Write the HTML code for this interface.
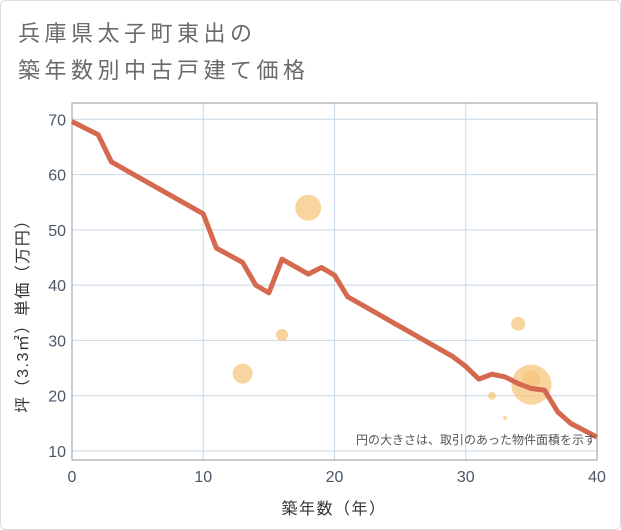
<!DOCTYPE html>
<html><head><meta charset="utf-8"><style>
html,body{margin:0;padding:0;background:#fff;}
body{width:621px;height:530px;overflow:hidden;font-family:"Liberation Sans","Noto Sans CJK JP",sans-serif;}
#frame{position:absolute;left:0;top:0;width:619px;height:528px;border:1px solid #ddd;border-radius:6px;}
</style></head><body>
<div id="frame"></div>
<svg width="621" height="530" style="position:absolute;left:0;top:0" id="chart">
<text x="18" y="41" font-size="22" fill="#6a6a6a" letter-spacing="4.5">兵庫県太子町東出の</text>
<text x="18" y="78" font-size="22" fill="#6a6a6a" letter-spacing="4.5">築年数別中古戸建て価格</text>
<g id="grid"></g>
<g id="marks"></g>
<text x="596" y="444" font-size="12" fill="#555" text-anchor="end">円の大きさは、取引のあった物件面積を示す</text>
<text x="334" y="514" font-size="16" fill="#333" text-anchor="middle" letter-spacing="1.5">築年数（年）</text>
<text transform="translate(28,312) rotate(-90)" font-size="16" fill="#333" text-anchor="middle" letter-spacing="1.5">坪（3.3㎡）単価（万円）</text>
</svg>
<script>
const xTicks=[0,10,20,30,40];
const yTicks=[10,20,30,40,50,60,70];
const lineYears=[0,2,3,10,11,13,14,15,16,18,19,20,21,29,30,31,32,33,34,35,36,37,38,40];
const lineValues=[69.6,67.2,62.3,52.9,46.7,44.1,40.0,38.6,44.7,42.0,43.2,41.8,37.9,27.1,25.3,23.0,23.9,23.4,22.2,21.3,21.0,17.1,15.0,12.5];
const bubbleYears=[13,16,18,32,33,34,35,35];
const bubbleValues=[24,31,54,20,16,33,22,23];
const bubbleSizes=[10,6,13,4,2,7,20,9];
const X0=72,X1=597,PT=103,PB=460;
const xs=v=>X0+(v-0)/(40-0)*(X1-X0);
const ys=v=>451-(v-10)/60*(451-119.3);
const NS='http://www.w3.org/2000/svg';
const grid=document.getElementById('grid'),marks=document.getElementById('marks');
function mk(tag,attrs,parent){const e=document.createElementNS(NS,tag);for(const k in attrs)e.setAttribute(k,attrs[k]);parent.appendChild(e);return e;}
xTicks.forEach(t=>{
 const l=mk('line',{x1:xs(t),x2:xs(t),y1:PT,y2:PB,stroke:'#c8d8e6','stroke-width':1},grid);
 
 
 const tx=mk('text',{x:xs(t),y:482,'font-size':16,fill:'#4a5866','text-anchor':'middle'},grid);
 tx.textContent=t;
 
 
});
yTicks.forEach(t=>{
 const l=mk('line',{x1:X0,x2:X1,y1:ys(t),y2:ys(t),stroke:'#c8d8e6','stroke-width':1},grid);
 
 
 const tx=mk('text',{x:66,y:ys(t)+6,'font-size':16,fill:'#4a5866','text-anchor':'end'},grid);
 tx.textContent=t;
 
 
});
const bd=mk('rect',{x:X0,y:PT,width:X1-X0,height:PB-PT,fill:'none',stroke:'#999','stroke-width':1},grid);


bubbleYears.forEach((yr,i)=>{
 const c=mk('circle',{cx:xs(yr),cy:ys(bubbleValues[i]),r:bubbleSizes[i],fill:'#f5c67f','fill-opacity':0.75},marks);
 
 
});
const pts=lineYears.map((yr,i)=>xs(yr)+','+ys(lineValues[i])).join(' ');
const pl=mk('polyline',{points:pts,fill:'none',stroke:'#d4694f','stroke-width':5,'stroke-linejoin':'round'},marks);


</script>
</body></html>
